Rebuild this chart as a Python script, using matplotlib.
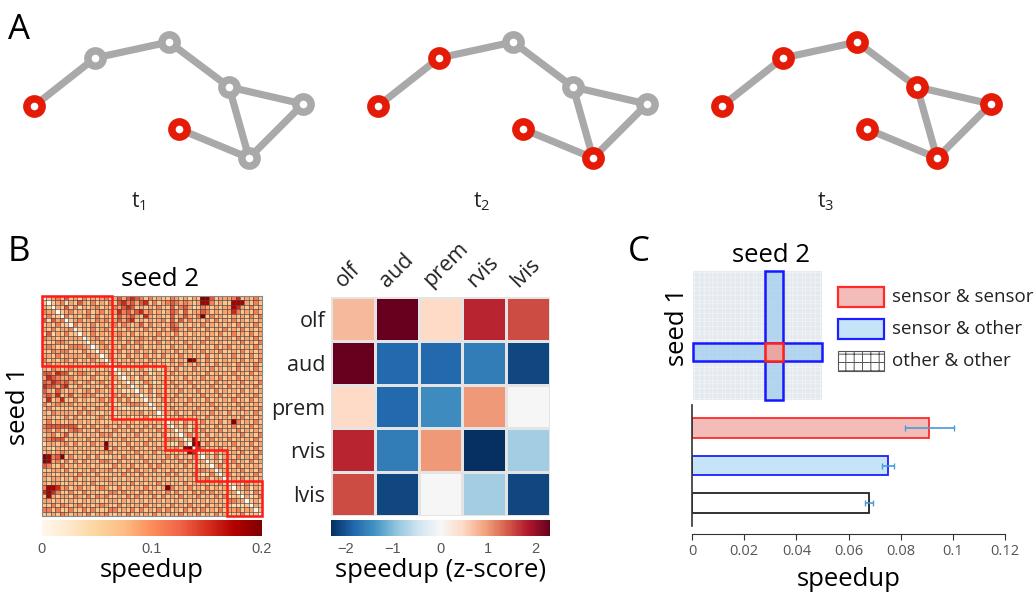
import numpy as np
import matplotlib.pyplot as plt
from matplotlib.patches import Rectangle

plt.rcParams['font.family'] = ['Open Sans', 'DejaVu Sans']
plt.rcParams['hatch.linewidth'] = 0.7

W, H = 1034, 592

# ---- panel A : small graph shown at three time steps
node_x = [34, 95, 169, 229, 303, 249, 179]
node_y = [106, 58, 42, 87, 104, 158, 129]
edges = [(0, 1), (1, 2), (2, 3), (3, 4), (3, 5), (4, 5), (5, 6)]
frame_shift = [0, 344, 688]
frame_labels = ['t$_\\mathregular{1}$', 't$_\\mathregular{2}$', 't$_\\mathregular{3}$']
active_nodes = [[0, 6], [0, 1, 5, 6], [0, 1, 2, 3, 4, 5, 6]]

# ---- panel B : speedup matrix (upper triangle, level 0-9 per cell, blocks separated by spaces)
speedup_rows = [
    "0345363425343453 464676535343 3543424 3996344 45734353",
    "034524364353435 367564673534 5654543 4885343 38884353",
    "04363524345343 546763434353 3635642 3543434 48743534",
    "0345343534534 475646745343 4653634 4653434 47534353",
    "053434535343 364564374343 3634643 5935343 34343535",
    "03453435453 464673434345 3636353 4353534 35343434",
    "0534353434 535434635343 4653434 3534343 43534353",
    "034353453 343534353435 3664353 4353435 34353434",
    "04353434 454353434353 4353434 3434353 35343534",
    "0345343 353434543534 3534343 4353434 43534353",
    "043534 343535434353 4343534 3534343 34353435",
    "03453 435343534343 3534353 4343534 53434353",
    "0434 353435343534 4353434 3534353 34353434",
    "035 343534353435 3435343 4353434 35343534",
    "04 434353435343 3534398 4353434 34353435",
    "0 353434353434 3435343 5343534 43534353",
    "034243532423 4353435 3435343 43534353",
    "03424352342 3534343 4353434 35343534",
    "0342534243 4343534 3534353 43534343",
    "042354234 3534353 4343534 34353435",
    "03425342 4353435 3435343 53434353",
    "0435243 3435343 5343534 34353434",
    "034253 4353434 3534353 43534353",
    "04235 3534353 4353434 35343534",
    "0342 4343534 3435343 43534343",
    "043 3534343 5343534 34353435",
    "03 4353435 3435343 53434353",
    "0 3435343 4353434 34353434",
    "0342534 3534353 49534353",
    "043524 4343534 35343534",
    "03425 3534353 43534343",
    "0453 4353434 34353435",
    "038 3435343 53434353",
    "09 8353434 35343534",
    "0 7534353 43534353",
    "0342534 34353435",
    "043524 43534353",
    "03425 35343534",
    "0453 43534343",
    "034 34353435",
    "04 53434353",
    "0 34353434",
    "03425342",
    "0435243",
    "034253",
    "04235",
    "0342",
    "043",
    "03",
    "0",
]
blocks = [0, 16, 28, 35, 42, 50]

regions = ['olf', 'aud', 'prem', 'rvis', 'lvis']
zscore = [
    [0.75, 2.3, 0.45, 1.75, 1.5],
    [2.3, -1.8, -1.8, -1.6, -2.1],
    [0.45, -1.8, -1.45, 1.0, 0.0],
    [1.75, -1.6, 1.0, -2.3, -0.8],
    [1.5, -2.1, 0.0, -0.8, -2.1],
]

# ---- panel C : mean speedup per pair type
bar_labels = ['sensor & sensor', 'sensor & other', 'other & other']
bar_values = [0.0909, 0.0751, 0.0678]
bar_errors = [0.0094, 0.0024, 0.0015]
sensor_block = (28, 35)

fig = plt.figure(figsize=(W / 100, H / 100), dpi=100)


def px_axes(x0, y0, x1, y1):
    return fig.add_axes([x0 / W, 1 - y1 / H, (x1 - x0) / W, (y1 - y0) / H])


def px_text(x, y, s, **kw):
    return fig.text(x / W, 1 - y / H, s, **kw)


red = '#e41b06'
grey = '#a9a9a9'

# panel A
axA = px_axes(0, 0, W, 230)
axA.set_xlim(0, W)
axA.set_ylim(230, 0)
axA.axis('off')
for shift, lab, act in zip(frame_shift, frame_labels, active_nodes):
    xs = np.array(node_x) + shift
    for a, b in edges:
        axA.plot([xs[a], xs[b]], [node_y[a], node_y[b]], color=grey, lw=5.2, zorder=1)
    for k in range(len(xs)):
        c = red if k in act else grey
        axA.plot(xs[k], node_y[k], 'o', ms=11, mfc='white', mec=c, mew=5.4, zorder=2)
    axA.text(138 + shift, 202, lab, fontsize=15, ha='center', va='center', color='#222')

px_text(8, 13, 'A', fontsize=25, va='top', ha='left')
px_text(8, 235, 'B', fontsize=25, va='top', ha='left')
px_text(628, 235, 'C', fontsize=25, va='top', ha='left')

# panel B left: speedup matrix
n = 50
lev = np.zeros((n, n))
for i, row in enumerate(speedup_rows):
    digits = [int(c) for c in row.replace(' ', '')][:n - i]
    lev[i, i:i + len(digits)] = digits
lev = np.triu(lev) + np.triu(lev, 1).T
speed = lev * 0.022

axB = px_axes(42, 296, 262, 516)
img = axB.imshow(speed, cmap='OrRd', vmin=0, vmax=0.2, interpolation='nearest',
                 extent=(0, n, n, 0), aspect='auto')
grid_pos = np.arange(n + 1)
axB.vlines(grid_pos, 0, n, color='#444444', lw=0.45)
axB.hlines(grid_pos, 0, n, color='#444444', lw=0.45)
axB.set_xlim(0, n)
axB.set_ylim(n, 0)
axB.set_xticks([])
axB.set_yticks([])
for s in axB.spines.values():
    s.set_color('#888888')
for a, b in zip(blocks[:-1], blocks[1:]):
    axB.add_patch(Rectangle((a, a), b - a, b - a, fill=False, ec='#ff1a1a', lw=1.8, zorder=3, clip_on=False))
axB.text(0.536, 1.02, 'seed 2', transform=axB.transAxes, fontsize=18.5, ha='center', va='bottom')
axB.set_ylabel('seed 1', fontsize=18.5, labelpad=8)

cax1 = px_axes(42, 520, 262, 536)
cb1 = fig.colorbar(img, cax=cax1, orientation='horizontal', ticks=[0, 0.1, 0.2])
cb1.ax.set_xticklabels(['0', '0.1', '0.2'])
cb1.outline.set_visible(False)
cax1.tick_params(length=0, labelsize=10.5, labelcolor='#555555', pad=4)
for t in cax1.get_xticklabels():
    t.set_family('Liberation Sans')
cb1.set_label('speedup', fontsize=18.5, labelpad=2)

# panel B right: z-scored region matrix
axZ = px_axes(331, 297, 550, 516)
zmesh = axZ.pcolormesh(np.array(zscore), cmap='RdBu_r', vmin=-2.3, vmax=2.3, edgecolors='#e4e4e4', linewidth=1.0)
axZ.set_xlim(0, 5)
axZ.set_ylim(5, 0)
axZ.xaxis.tick_top()
axZ.set_xticks(np.arange(5) + 0.35)
axZ.set_xticklabels(regions, rotation=45, ha='left', va='bottom', rotation_mode='anchor', fontsize=15.5)
axZ.set_yticks(np.arange(5) + 0.5)
axZ.set_yticklabels(regions, fontsize=15.5)
axZ.tick_params(length=0, pad=4, labelcolor='#222222')
for s in axZ.spines.values():
    s.set_visible(False)

cax2 = px_axes(331, 520, 550, 536)
cb2 = fig.colorbar(zmesh, cax=cax2, orientation='horizontal', ticks=[-2, -1, 0, 1, 2])
cb2.ax.set_xticklabels(['\u22122', '\u22121', '0', '1', '2'])
cb2.outline.set_visible(False)
cax2.tick_params(length=0, labelsize=10.5, labelcolor='#555555', pad=4)
for t in cax2.get_xticklabels():
    t.set_family('Liberation Sans')
cb2.set_label('speedup (z-score)', fontsize=18.5, labelpad=2)

# panel C schematic
axS = px_axes(693, 271, 822, 400)
axS.add_patch(Rectangle((0, 0), n, n, fc='#f4f7fa', ec='none', zorder=0))
axS.vlines(grid_pos, 0, n, color='#cfd7df', lw=0.3, zorder=1)
axS.hlines(grid_pos, 0, n, color='#cfd7df', lw=0.3, zorder=1)
axS.set_xlim(0, n)
axS.set_ylim(n, 0)
axS.axis('off')
a, b = sensor_block
blue_face = (0.62, 0.80, 0.94, 0.7)
axS.add_patch(Rectangle((a, 0), b - a, n, fc=blue_face, ec='#1717ff', lw=1.8, clip_on=False, zorder=3))
axS.add_patch(Rectangle((0, a), n, b - a, fc=blue_face, ec='#1717ff', lw=1.8, clip_on=False, zorder=3))
axS.add_patch(Rectangle((a, a), b - a, b - a, fc='#e8a7a3', ec='#ff2020', lw=1.8, clip_on=False, zorder=4))
px_text(771, 255, 'seed 2', fontsize=18.5, ha='center', va='center')
px_text(678, 327, 'seed 1', fontsize=18.5, ha='center', va='center', rotation=90)

# legend
faces = ['#f4bcb9', '#c6e4f8', 'white']
edgecols = ['#ff2b2b', '#1f1fff', '#222222']
hatches = [None, None, '++']
lax = px_axes(830, 280, 1034, 380)
lax.set_xlim(830, 1034)
lax.set_ylim(380, 280)
lax.axis('off')
for k, (lab, fc, ec, ht) in enumerate(zip(bar_labels, faces, edgecols, hatches)):
    y = 287 + 32 * k
    lax.add_patch(Rectangle((838, y), 46, 20, fc=fc, ec=ec if ht is None else '#555555',
                            lw=1.6 if ht is None else 0.8, hatch=ht))
    lax.text(892, y + 10, lab, fontsize=13.5, va='center', ha='left', color='#222')

# panel C bars
axC = px_axes(692, 405, 1005, 526)
axC.barh(range(3), bar_values, height=0.52, color=faces, edgecolor=edgecols, linewidth=1.3,
         xerr=bar_errors, error_kw=dict(ecolor='#4a9ad8', elinewidth=1.2, capsize=2, capthick=1))
axC.set_ylim(2.6, -0.6)
axC.set_xlim(0, 0.12)
axC.set_yticks([])
axC.set_xticks([0, 0.02, 0.04, 0.06, 0.08, 0.1, 0.12])
axC.set_xticklabels(['0', '0.02', '0.04', '0.06', '0.08', '0.1', '0.12'])
for t in axC.get_xticklabels():
    t.set_family('Liberation Sans')
axC.tick_params(axis='x', length=4, color='#333333', labelsize=10.5, labelcolor='#555555', pad=3)
axC.spines['top'].set_visible(False)
axC.spines['right'].set_visible(False)
axC.spines['bottom'].set_position(('outward', 6))
axC.spines['bottom'].set_color('#333333')
axC.spines['left'].set_color('#333333')
axC.spines['left'].set_linewidth(1.2)
axC.set_xlabel('speedup', fontsize=18.5, labelpad=6)

fig.savefig('out.png', dpi=100)
